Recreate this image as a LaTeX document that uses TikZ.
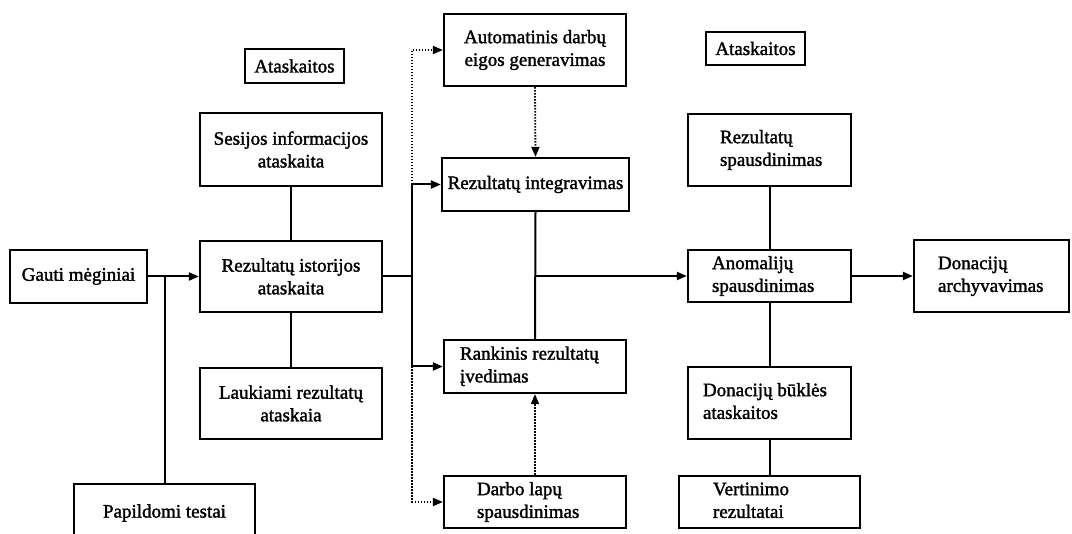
\documentclass[tikz,border=0pt]{standalone}
\usepackage{fontspec}
\setmainfont{Liberation Serif}[FakeBold=1.6]
\usetikzlibrary{arrows.meta,calc}

% Box from its corner coordinates: [options]{name}{x1}{y1}{x2}{y2}{text}
\newcommand\flowbox[7][]{%
  \pgfmathsetmacro\bw{#5-#3}\pgfmathsetmacro\bh{#6-#4}%
  \pgfmathsetmacro\bx{(#3+#5)/2}\pgfmathsetmacro\by{(#4+#6)/2}%
  \node[box,minimum width=\bw pt,minimum height=\bh pt,#1] (#2) at (\bx,\by) {#7};}

% Left-aligned lines, indented by #1 from the box's left side
\newcommand\ltext[2]{\makebox[\bw pt][l]{\hspace*{#1pt}\begin{tabular}{@{}l@{}}#2\end{tabular}}}

\tikzset{
  box/.style={draw, line width=2.2pt, inner sep=0pt, align=center,
    font=\fontsize{19}{22.7}\selectfont},
  conn/.style={line width=2pt},
  arr/.style={conn, -{Triangle[length=10pt,width=8pt]}},
  dots/.style={line width=1.8pt, dash pattern=on 1.6pt off 1.4pt},
  darr/.style={dots, -{Triangle[length=10pt,width=8pt]}},
}

\begin{document}
\begin{tikzpicture}[x=1pt,y=-1pt]
\useasboundingbox (0,0) rectangle (1072,534);
\fill[white] (0,0) rectangle (1072,534);

% left part
\flowbox{atl}{245}{49}{344}{83}{Ataskaitos}
\flowbox{gauti}{10}{250}{147}{303}{Gauti mėginiai}
\flowbox{papil}{74}{484}{255}{542}{Papildomi testai}
\flowbox{ses}{200}{113}{382}{186}{Sesijos informacijos\\ataskaita}
\flowbox{hist}{200}{241}{382}{312}{Rezultatų istorijos\\ataskaita}
\flowbox{lauk}{200}{368}{382}{439}{Laukiami rezultatų\\ataskaia}

% middle column
\flowbox{auto}{444}{14}{626}{86}{Automatinis darbų\\eigos generavimas}
\flowbox{integ}{442}{158}{629}{211}{Rezultatų integravimas}
\flowbox{rank}{444}{340}{626}{393}{\ltext{16}{Rankinis rezultatų\\įvedimas}}
\flowbox{darbo}{444}{476}{626}{528}{\ltext{33}{Darbo lapų\\spausdinimas}}

% right part
\flowbox{atr}{706}{32}{805}{65}{Ataskaitos}
\flowbox{rezsp}{688}{114}{851}{186}{\ltext{32}{Rezultatų\\spausdinimas}}
\flowbox{anom}{688}{250}{851}{302}{\ltext{24}{Anomalijų\\spausdinimas}}
\flowbox{dbuk}{688}{367}{851}{439}{\ltext{15}{Donacijų būklės\\ataskaitos}}
\flowbox{vert}{679}{476}{860}{528}{\ltext{34}{Vertinimo\\rezultatai}}
\flowbox{arch}{914}{240}{1069}{312}{\ltext{24}{Donacijų\\archyvavimas}}

% connectors on the left
\draw[arr] (gauti.east) -- (hist.west);
\draw[conn] (papil.north) -- (papil.north |- gauti.east);
\draw[conn] (ses.south) -- (hist.north);
\draw[conn] (hist.south) -- (lauk.north);

% distribution bus
\coordinate (bus) at (412,276.5);
\draw[conn] (hist.east) -- (bus);
\draw[arr] (bus) |- (integ.west);
\draw[arr] (bus) |- (rank.west);
\draw[darr] (bus |- integ.west) |- (auto.west);
\draw[darr] (bus |- rank.west) |- (darbo.west);

% middle column links
\draw[darr] (auto.south) -- (integ.north);
\draw[darr] (darbo.north) -- (rank.south);
\draw[conn] (integ.south) -- (rank.north);
\draw[arr] (integ.south |- anom.west) -- (anom.west);

% right column links
\draw[conn] (rezsp.south) -- (anom.north);
\draw[conn] (anom.south) -- (dbuk.north);
\draw[conn] (dbuk.south) -- (vert.north);
\draw[arr] (anom.east) -- (arch.west);
\end{tikzpicture}
\end{document}
